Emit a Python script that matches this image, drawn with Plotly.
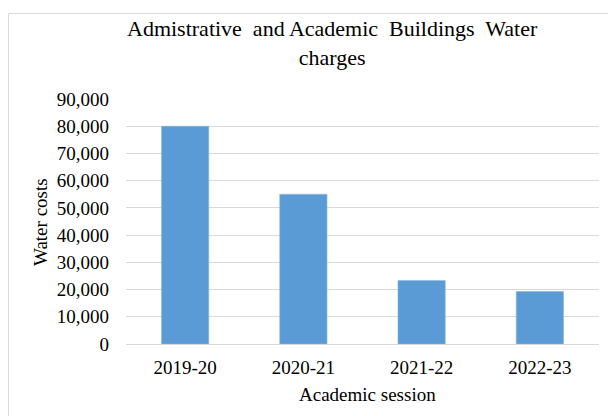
import plotly.graph_objects as go

# Water charges per academic session
sessions = ["2019-20", "2020-21", "2021-22", "2022-23"]
water_costs = [80000, 55000, 23300, 19300]
y_ticks = [0, 10000, 20000, 30000, 40000, 50000, 60000, 70000, 80000, 90000]

W, H = 608, 416
L, R, T, B = 126, 9, 99, 72
pw, ph = W - L - R, H - T - B

def px_x(x):
    return (x - L) / pw

def px_y(y):
    return (H - B - y) / ph

FONT = "Liberation Serif, Times New Roman, serif"
GRID = "#d9d9d9"
SP2 = "\u00a0 "  # wide word gap used in the title

title_text = (
    "Admistrative" + SP2 + "and Academic" + SP2 + "Buildings" + SP2 + "Water<br>charges"
)

fig = go.Figure(
    go.Bar(
        x=sessions,
        y=water_costs,
        marker=dict(color="#5b9bd5", line=dict(color="#8db8e3", width=0.6)),
    )
)

fig.update_layout(
    width=W,
    height=H,
    margin=dict(l=L, r=R, t=T, b=B),
    paper_bgcolor="white",
    plot_bgcolor="white",
    bargap=0.6,
    showlegend=False,
    font=dict(family=FONT, color="#000000", size=19),
    xaxis=dict(
        showgrid=False,
        showline=True,
        linecolor=GRID,
        linewidth=1,
        ticks="",
        ticklabelstandoff=6,
        tickfont=dict(size=19),
    ),
    yaxis=dict(
        range=[0, 90000],
        tickvals=y_ticks,
        tickformat=",",
        showgrid=True,
        gridcolor=GRID,
        gridwidth=1,
        zeroline=False,
        showline=False,
        ticks="",
        ticklabelstandoff=16,
        tickfont=dict(size=19),
    ),
    shapes=[
        dict(
            type="rect", xref="paper", yref="paper",
            x0=px_x(8.5), x1=px_x(W + 5), y0=px_y(H + 5), y1=px_y(13.5),
            line=dict(color=GRID, width=1), fillcolor="rgba(0,0,0,0)", layer="below",
        )
    ],
    annotations=[
        dict(
            text=title_text,
            xref="paper", yref="paper", x=px_x(332), y=px_y(43),
            xanchor="center", yanchor="middle", showarrow=False,
            font=dict(size=22, family=FONT),
        ),
        dict(
            text="Academic session",
            xref="paper", yref="paper", x=px_x(367), y=px_y(394),
            xanchor="center", yanchor="middle", showarrow=False,
            font=dict(size=19, family=FONT),
        ),
        dict(
            text="Water costs",
            xref="paper", yref="paper", x=px_x(40), y=px_y(222),
            xanchor="center", yanchor="middle", showarrow=False, textangle=-90,
            font=dict(size=19, family=FONT),
        ),
    ],
)

fig.write_html("out.html")
